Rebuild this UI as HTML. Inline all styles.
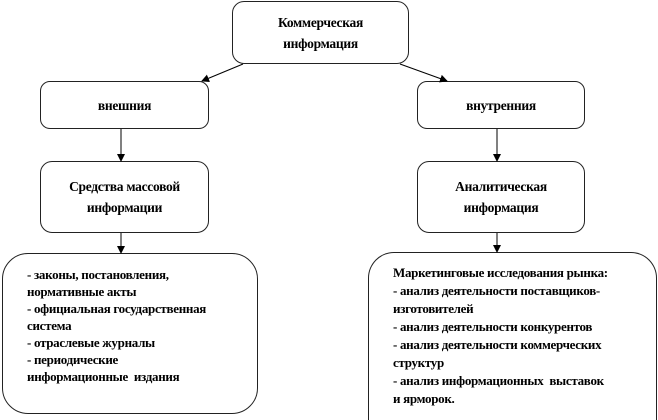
<!DOCTYPE html>
<html style="width:658px;height:420px;overflow:hidden;margin:0"><head><meta charset="utf-8"><style>
body{margin:0;width:658px;height:420px;overflow:hidden;background:#fff;position:relative;font-family:"Liberation Serif","Times New Roman","DejaVu Serif",serif;font-weight:bold;color:#000}
.b{position:absolute;border:1.3px solid #222;box-sizing:border-box;background:#fff}
.c{display:flex;align-items:center;justify-content:center;text-align:center;font-size:13.5px;line-height:21px;letter-spacing:-0.3px}
.t{position:absolute;font-size:13px;letter-spacing:-0.3px;white-space:nowrap}
svg{position:absolute;left:0;top:0}
</style></head><body>
<div class="b c" style="left:232px;top:1px;width:177px;height:63px;border-radius:12px">Коммерческая<br>информация</div>
<div class="b c" style="left:40px;top:81px;width:169px;height:48px;border-radius:10px">внешния</div>
<div class="b c" style="left:417px;top:81px;width:168px;height:48px;border-radius:10px">внутренния</div>
<div class="b c" style="left:40px;top:161px;width:169px;height:72px;border-radius:12px">Средства массовой<br>информации</div>
<div class="b c" style="left:417px;top:161px;width:168px;height:72px;border-radius:12px">Аналитическая<br>информация</div>
<div class="b" style="left:2px;top:253px;width:256px;height:161px;border-radius:26px"></div>
<div class="b" style="left:368px;top:252px;width:289px;height:168px;border-radius:26px 26px 0 0;border-bottom:none"></div>
<div class="t" style="left:27px;top:266px;line-height:17px">- законы, постановления,<br>нормативные акты<br>- официальная государственная<br>система<br>- отраслевые журналы<br>- периодические<br>информационные&nbsp; издания</div>
<div class="t" style="left:393px;top:264px;line-height:18px">Маркетинговые исследования рынка:<br>- анализ деятельности поставщиков-<br>изготовителей<br>- анализ деятельности конкурентов<br>- анализ деятельности коммерческих<br>структур<br>- анализ информационных&nbsp; выставок<br>и ярморок.</div>
<svg width="658" height="420">
<defs><marker id="a" markerWidth="8" markerHeight="8" refX="7" refY="4" orient="auto" markerUnits="userSpaceOnUse"><path d="M0,0L8,4L0,8z" fill="#000"/></marker></defs>
<g stroke="#000" stroke-width="1" marker-end="url(#a)">
<line x1="243" y1="64" x2="202" y2="81"/>
<line x1="400" y1="64" x2="447" y2="81"/>
<line x1="121" y1="129" x2="121" y2="161"/>
<line x1="497" y1="129" x2="497" y2="161"/>
<line x1="121" y1="233" x2="121" y2="253"/>
<line x1="497" y1="233" x2="497" y2="252"/>
</g></svg>
</body></html>
